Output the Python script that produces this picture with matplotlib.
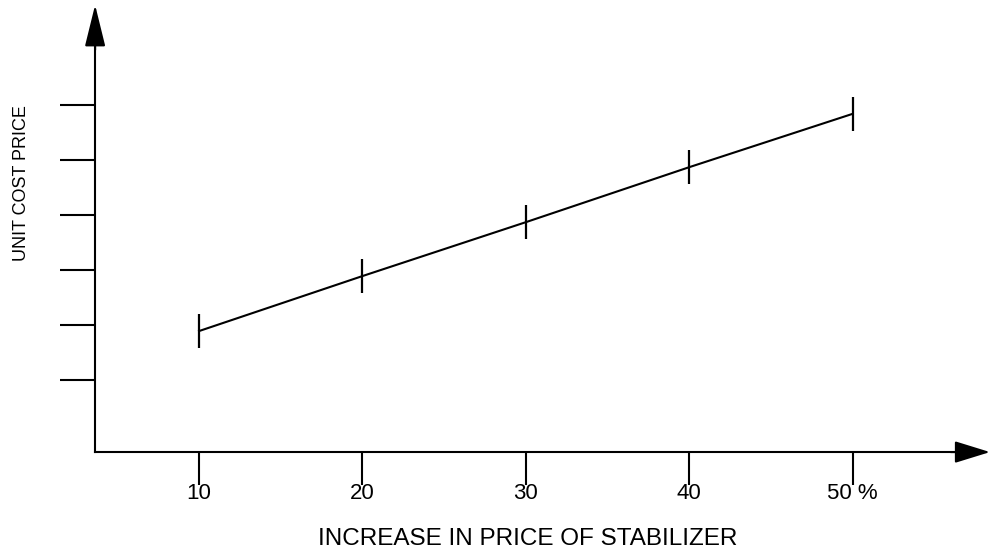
import matplotlib
matplotlib.use("Agg")
import matplotlib.pyplot as plt

plt.rcParams['font.family'] = ['Liberation Sans', 'DejaVu Sans']

# Data
stabilizer_increase = [10, 20, 30, 40, 50]
unit_cost = [1.89, 2.89, 3.87, 4.87, 5.84]
x_tick_labels = ['10', '20', '30', '40', '50 %']
y_ticks = [1, 2, 3, 4, 5, 6]

fig = plt.figure(figsize=(9.9, 5.53), dpi=100)
ax = fig.add_axes([0, 0, 1, 1])

x_origin = 3.64
y_origin = -0.31
x_tip = 58.4
y_tip = 7.82

ax.set_xlim(-2.18, 58.4)
ax.set_ylim(-2.145, 7.909)

# spines as axes
for s in ['top', 'right']:
    ax.spines[s].set_visible(False)
ax.spines['left'].set_position(('data', x_origin))
ax.spines['bottom'].set_position(('data', y_origin))
ax.spines['left'].set_bounds(y_origin, 7.3)
ax.spines['bottom'].set_bounds(x_origin, 56.6)
ax.spines['left'].set_linewidth(1.5)
ax.spines['bottom'].set_linewidth(1.5)

ax.set_yticks(y_ticks)
ax.set_yticklabels([])
ax.tick_params(axis='y', direction='out', length=25, width=1.5, color='black')
ax.set_xticks(stabilizer_increase)
ax.set_xticklabels(x_tick_labels, fontsize=16)
ax.tick_params(axis='x', direction='out', length=24, width=1.5, color='black', pad=-2)

# arrow heads
ax.annotate('', xy=(x_origin, y_tip), xytext=(x_origin, 7.0),
            arrowprops=dict(arrowstyle='-|>,head_length=1.3,head_width=0.32',
                            mutation_scale=20, lw=1.5, color='black',
                            shrinkA=0, shrinkB=0))
ax.annotate('', xy=(x_tip, y_origin), xytext=(56.0, y_origin),
            arrowprops=dict(arrowstyle='-|>,head_length=1.1,head_width=0.34',
                            mutation_scale=20, lw=1.5, color='black',
                            shrinkA=0, shrinkB=0))

# data line with vertical bar markers
ax.plot(stabilizer_increase, unit_cost, color='black', lw=1.5,
        marker='|', markersize=24.5, markeredgewidth=1.6)

fig.text(528 / 990, 1 - 539 / 553, 'INCREASE IN PRICE OF STABILIZER',
         ha='center', va='center', fontsize=17.5)
fig.text(22 / 990, 1 - 183 / 553, 'UNIT COST PRICE', rotation=90,
         ha='center', va='center', fontsize=13)

fig.savefig('out.png', dpi=100)
